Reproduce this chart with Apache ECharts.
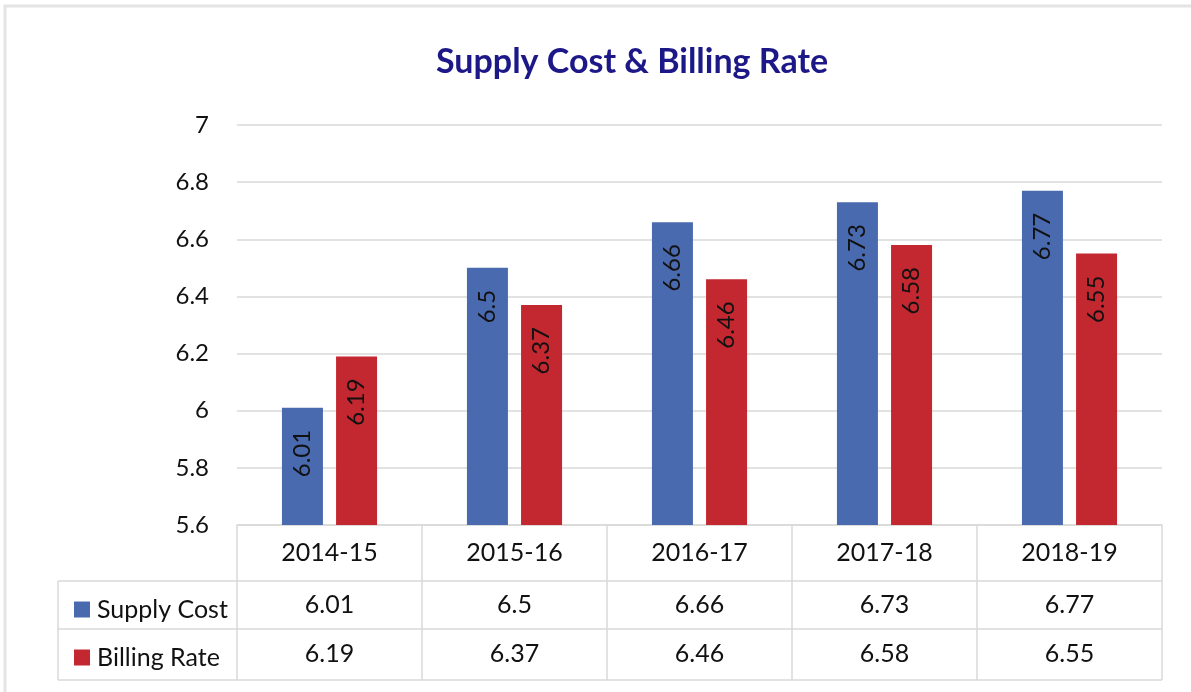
<!DOCTYPE html>
<html>
<head>
<meta charset="utf-8">
<script src="https://cdn.jsdelivr.net/npm/echarts@6/dist/echarts.min.js"></script>
<style>
  html, body { margin: 0; padding: 0; background: #fff; }
  #container { width: 1191px; height: 692px; }
</style>
</head>
<body>
<div id="container"></div>
<script>
var years = ["2014-15", "2015-16", "2016-17", "2017-18", "2018-19"];
var supplyCost = [6.01, 6.5, 6.66, 6.73, 6.77];
var billingRate = [6.19, 6.37, 6.46, 6.58, 6.55];
var seriesNames = ["Supply Cost", "Billing Rate"];

var dom = document.getElementById("container");
var myChart = echarts.init(dom);

var font = "Lato, 'DejaVu Sans', sans-serif";
var lineGray = "#d9d9d6";

var barLabel = {
  show: true,
  position: "insideTop",
  rotate: 90,
  align: "right",
  verticalAlign: "middle",
  distance: 22,
  fontSize: 24,
  fontFamily: font,
  color: "#111"
};

// extra bottom axes used as the rows of the data table
function tableAxis(values, offset, margin) {
  return {
    type: "category",
    data: years,
    position: "bottom",
    offset: offset,
    axisLine: { show: false },
    axisTick: { show: false },
    axisLabel: {
      margin: margin,
      fontSize: 25,
      fontFamily: font,
      color: "#111",
      formatter: function(v, i) { return String(values[i]); }
    }
  };
}

var option = {
  backgroundColor: "#fff",
  title: {
    text: "Supply Cost & Billing Rate",
    left: 431,
    top: 40,
    textStyle: {
      fontSize: 34,
      fontWeight: "bold",
      fontFamily: font,
      color: "#1d1888"
    }
  },
  legend: {
    orient: "vertical",
    left: 69,
    top: 592,
    itemGap: 23,
    itemWidth: 16,
    itemHeight: 16,
    icon: "rect",
    data: seriesNames,
    textStyle: { fontSize: 25, fontFamily: font, color: "#111", padding: [0, 0, 0, 2] }
  },
  grid: {
    left: 237,
    right: 29,
    top: 125,
    bottom: 167
  },
  xAxis: [
    {
      type: "category",
      data: years,
      axisLine: { show: true, lineStyle: { color: lineGray, width: 1.5 } },
      axisTick: { show: true, alignWithLabel: false, length: 155, lineStyle: { color: lineGray, width: 1.5 } },
      axisLabel: { margin: 15, fontSize: 25, fontFamily: font, color: "#111" }
    },
    tableAxis(supplyCost, 56, 11),
    tableAxis(billingRate, 104, 12)
  ],
  yAxis: {
    type: "value",
    min: 5.6,
    max: 7,
    interval: 0.2,
    axisLine: { show: false },
    axisTick: { show: false },
    axisLabel: { margin: 28, fontSize: 24, fontFamily: font, color: "#111" },
    splitLine: { lineStyle: { color: lineGray, width: 1.5 } }
  },
  series: [
    {
      name: seriesNames[0],
      type: "bar",
      xAxisIndex: 0,
      data: supplyCost,
      barWidth: 41,
      barGap: "32%",
      itemStyle: { color: "#4a6aaf" },
      label: barLabel
    },
    {
      name: seriesNames[1],
      type: "bar",
      xAxisIndex: 0,
      data: billingRate,
      barWidth: 41,
      barGap: "32%",
      itemStyle: { color: "#c3272f" },
      label: barLabel
    }
  ],
  graphic: [
    { type: "rect", shape: { x: 5, y: 6, width: 1200, height: 700 }, style: { fill: "none", stroke: "#e4e4e4", lineWidth: 3 }, silent: true },
    { type: "line", shape: { x1: 58, y1: 581, x2: 1162, y2: 581 }, style: { stroke: lineGray, lineWidth: 1.5 } },
    { type: "line", shape: { x1: 58, y1: 629, x2: 1162, y2: 629 }, style: { stroke: lineGray, lineWidth: 1.5 } },
    { type: "line", shape: { x1: 58, y1: 680, x2: 1162, y2: 680 }, style: { stroke: lineGray, lineWidth: 1.5 } },
    { type: "line", shape: { x1: 58, y1: 581, x2: 58, y2: 680 }, style: { stroke: lineGray, lineWidth: 1.5 } }
  ]
};

if (option && typeof option === "object") {
  myChart.setOption(option, true);
}
</script>
</body>
</html>
